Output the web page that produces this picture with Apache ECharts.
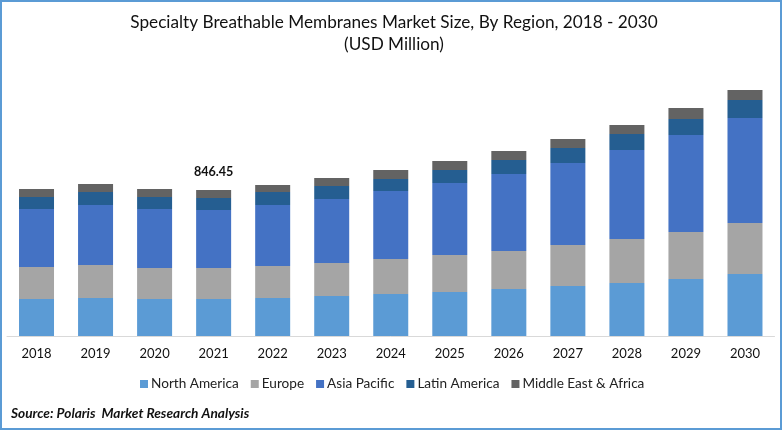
<!DOCTYPE html>
<html>
<head>
<meta charset="utf-8">
<title>Specialty Breathable Membranes Market Size</title>
<script src="https://cdn.jsdelivr.net/npm/echarts@6/dist/echarts.min.js"></script>
<style>
html, body { margin: 0; padding: 0; background: #fff; }
#chart { width: 782px; height: 430px; }
</style>
</head>
<body>
<div id="chart"></div>
<script>
var years = ['2018', '2019', '2020', '2021', '2022', '2023', '2024', '2025', '2026', '2027', '2028', '2029', '2030'];

var northAmerica = [214.6, 220.4, 214.6, 214.6, 220.4, 232, 243.6, 255.2, 272.6, 290, 307.4, 330.6, 359.6];
var europe = [185.6, 191.4, 179.8, 179.8, 185.6, 191.4, 203, 214.6, 220.4, 237.8, 255.2, 272.6, 295.8];
var asiaPacific = [336.4, 348, 342.2, 336.4, 353.8, 371.2, 394.4, 417.6, 446.6, 475.6, 516.2, 562.6, 609];
var latinAmerica = [69.6, 75.4, 69.6, 69.6, 75.4, 75.4, 69.6, 75.4, 81.2, 87, 92.8, 92.8, 104.4];
var middleEastAfrica = [46.4, 46.4, 46.4, 46.05, 40.6, 46.4, 52.2, 52.2, 52.2, 52.2, 52.2, 63.8, 58];

var labelledYear = '2021';
var labelledTotal = '846.45';

var font = 'Lato';

function makeSeries(name, values, color) {
	return {
		name: name,
		type: 'bar',
		stack: 'total',
		barWidth: 35,
		itemStyle: {color: color},
		data: values
	};
}

var series = [
	makeSeries('North America', northAmerica, '#5b9bd5'),
	makeSeries('Europe', europe, '#a5a5a5'),
	makeSeries('Asia Pacific', asiaPacific, '#4472c4'),
	makeSeries('Latin America', latinAmerica, '#255e91'),
	makeSeries('Middle East & Africa', middleEastAfrica, '#636363')
];

// only one total is printed in the picture, it sits on the top segment
series[4].data = middleEastAfrica.map(function (v, i) {
	if (years[i] !== labelledYear) return v;
	return {
		value: v,
		label: {
			show: true,
			position: 'top',
			distance: 12,
			formatter: labelledTotal,
			fontFamily: font,
			fontWeight: 'bold',
			fontSize: 12.6,
			color: '#111'
		}
	};
});

var chart = echarts.init(document.getElementById('chart'));
chart.setOption({
	animation: false,
	backgroundColor: '#fff',
	title: {
		text: 'Specialty Breathable Membranes Market Size, By Region, 2018 - 2030\n(USD Million)',
		left: 389,
		top: 6,
		textAlign: 'center',
		textStyle: {
			fontFamily: font,
			fontWeight: 'normal',
			fontSize: 17.2,
			lineHeight: 22,
			color: '#111'
		}
	},
	legend: {
		left: 135,
		top: 372,
		itemWidth: 8,
		itemHeight: 8,
		itemGap: 12,
		icon: 'rect',
		textStyle: {fontFamily: font, fontSize: 13.6, color: '#222', padding: [0, 0, 0, -2]}
	},
	grid: {left: 7, right: 7.5, top: 36, height: 300},
	xAxis: {
		type: 'category',
		data: years,
		axisTick: {show: false},
		axisLine: {lineStyle: {color: '#d9d9d9', width: 1}},
		axisLabel: {fontFamily: font, fontSize: 13, color: '#111', margin: 11}
	},
	yAxis: {
		type: 'value',
		min: 0,
		max: 1740,
		show: false
	},
	graphic: [
		{
			type: 'rect',
			shape: {x: 1, y: 1, width: 780, height: 428},
			style: {fill: 'none', stroke: '#5b9bd5', lineWidth: 2},
			z: 10
		},
		{
			type: 'text',
			left: 11,
			top: 407,
			style: {
				text: 'Source: Polaris  Market Research Analysis',
				fontFamily: font,
				fontStyle: 'italic',
				fontWeight: 'bold',
				fontSize: 13.7,
				fill: '#111'
			}
		}
	],
	series: series
});
</script>
</body>
</html>
